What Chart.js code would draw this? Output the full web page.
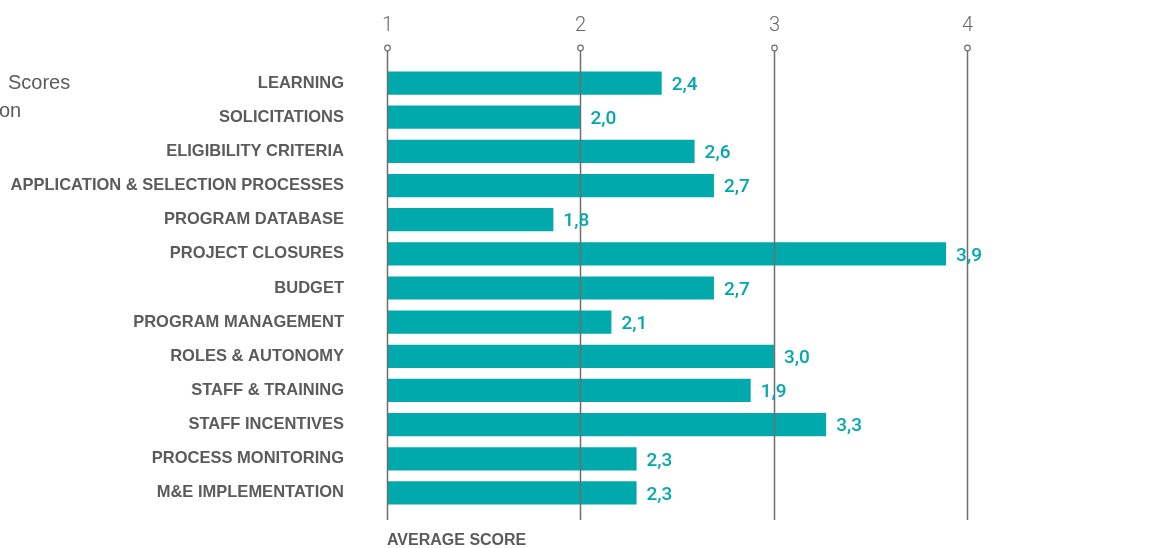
<!DOCTYPE html>
<html>
<head>
<meta charset="utf-8">
<script src="https://cdn.jsdelivr.net/npm/chart.js@4"></script>
<style>
  body { margin: 0; background: #fff; }
  #wrap { position: relative; width: 1156px; height: 548px; overflow: hidden; }
  .side { position: absolute; font-family: "Liberation Sans", Arial, sans-serif; font-size: 20px; color: #5b5b5b; }
  #axisName { position: absolute; left: 387px; top: 531px; font-family: "Liberation Sans", Arial, sans-serif;
    font-weight: bold; font-size: 16px; color: #5b5b5b; }
</style>
</head>
<body>
<div id="wrap">
  <canvas id="chart" width="1156" height="548"></canvas>
  <div class="side" style="left:8px; top:71px;">Scores</div>
  <div class="side" style="left:-1px; top:99px;">on</div>
  <div id="axisName">AVERAGE SCORE</div>
</div>
<script>
// categories, top to bottom
const categories = ['LEARNING', 'SOLICITATIONS', 'ELIGIBILITY CRITERIA', 'APPLICATION & SELECTION PROCESSES',
  'PROGRAM DATABASE', 'PROJECT CLOSURES', 'BUDGET', 'PROGRAM MANAGEMENT', 'ROLES & AUTONOMY',
  'STAFF & TRAINING', 'STAFF INCENTIVES', 'PROCESS MONITORING', 'M&E IMPLEMENTATION'];
// bar lengths as drawn
const scores = [2.42, 2.0, 2.59, 2.69, 1.86, 3.89, 2.69, 2.16, 3.0, 2.88, 3.27, 2.29, 2.29];
// printed value labels
const scoreLabels = ['2,4', '2,0', '2,6', '2,7', '1,8', '3,9', '2,7', '2,1', '3,0', '1,9', '3,3', '2,3', '2,3'];
const tickValues = [1, 2, 3, 4, 5];

const teal = '#00a9ab';
const lineGray = '#6e6e6e';

// tick numbers, grid lines with small circles on top, drawn over the bars
const gridPlugin = {
    id: 'scoreGrid',
    afterDatasetsDraw(chart) {
        const ctx = chart.ctx;
        const x = chart.scales.x;
        ctx.save();
        ctx.strokeStyle = lineGray;
        ctx.font = '300 20px Roboto';
        ctx.textAlign = 'center';
        ctx.textBaseline = 'middle';
        tickValues.forEach(function(v) {
            const px = Math.round(x.getPixelForValue(v)) + 0.5;
            ctx.fillStyle = '#6a6a6a';
            ctx.fillText(String(v), px, 26);
            ctx.lineWidth = 1.5;
            ctx.beginPath();
            ctx.moveTo(px, 51);
            ctx.lineTo(px, 520);
            ctx.stroke();
            ctx.beginPath();
            ctx.arc(px, 48, 2.8, 0, Math.PI * 2);
            ctx.fillStyle = '#fff';
            ctx.fill();
            ctx.lineWidth = 1.2;
            ctx.stroke();
        });
        ctx.restore();
    }
};

// value labels right of each bar
const valuePlugin = {
    id: 'valueLabels',
    afterDraw(chart) {
        const ctx = chart.ctx;
        const meta = chart.getDatasetMeta(0);
        ctx.save();
        ctx.font = '500 19px Roboto';
        ctx.fillStyle = teal;
        ctx.textBaseline = 'middle';
        meta.data.forEach(function(bar, i) {
            ctx.fillText(scoreLabels[i], bar.x + 10, bar.y + 2);
        });
        ctx.restore();
    }
};

var ctx = document.getElementById('chart').getContext('2d');
var myChart = new Chart(ctx, {
    type: 'bar',
    data: {
        labels: categories,
        datasets: [{
            data: scores,
            base: 1,
            backgroundColor: teal,
            borderWidth: 0,
            barPercentage: 0.68,
            categoryPercentage: 1
        }]
    },
    options: {
        indexAxis: 'y',
        responsive: false,
        animation: false,
        layout: { padding: { top: 0, right: 0, bottom: 38, left: 0 } },
        plugins: {
            legend: { display: false },
            tooltip: { enabled: false }
        },
        scales: {
            x: {
                position: 'top',
                min: 1,
                max: 4.975,
                afterBuildTicks: function(scale) {
                    scale.ticks = tickValues.map(function(v) { return { value: v }; });
                },
                afterFit: function(scale) {
                    scale.height = 66;
                    scale.paddingLeft = 0;
                    scale.paddingRight = 0;
                },
                grid: { display: false },
                border: { display: false },
                ticks: { display: false }
            },
            y: {
                afterFit: function(scale) {
                    scale.width = 387;
                    scale.paddingTop = 0;
                    scale.paddingBottom = 0;
                },
                grid: { display: false },
                border: { display: false },
                ticks: {
                    padding: 35,
                    color: '#5b5b5b',
                    font: { family: 'Liberation Sans', size: 16.5, weight: 'bold' }
                }
            }
        }
    },
    plugins: [gridPlugin, valuePlugin]
});
</script>
</body>
</html>
